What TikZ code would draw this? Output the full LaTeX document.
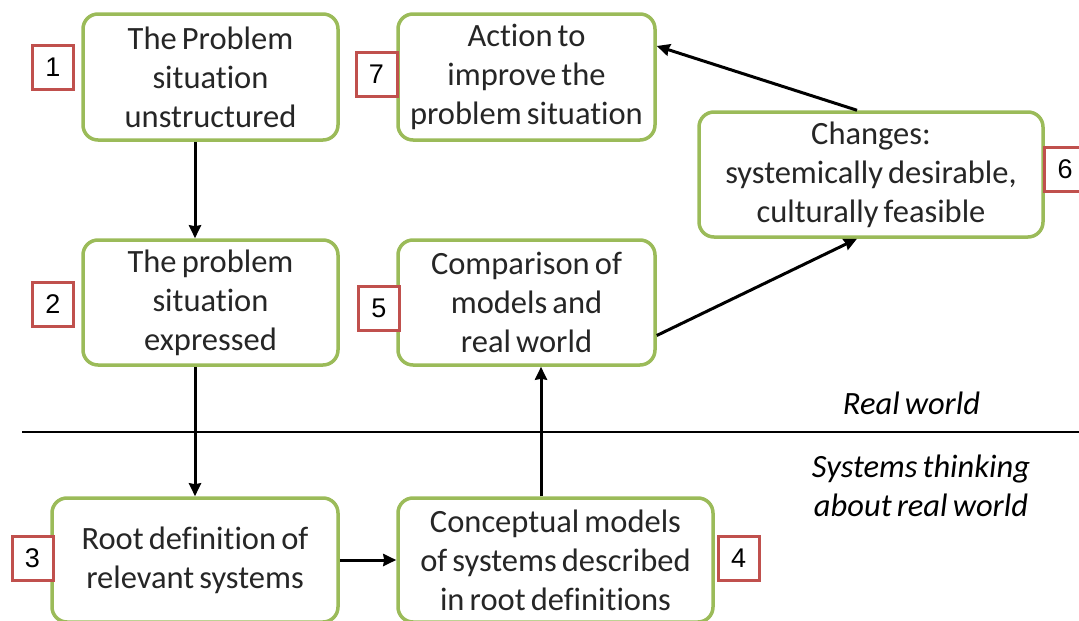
\documentclass[tikz,border=0pt]{standalone}
\usepackage{fontspec}
\setmainfont{Carlito}[WordSpace=0.7, RawFeature={-liga;-clig;-calt;-dlig}]
\newfontfamily\numfont{Liberation Sans}
\usetikzlibrary{arrows.meta}
\definecolor{boxgreen}{HTML}{9BBB59}
\definecolor{tagred}{HTML}{C0504D}
\definecolor{textgrey}{HTML}{262626}
\begin{document}
\begin{tikzpicture}[x=1pt,y=-1pt,
  stage/.style={draw=boxgreen, line width=3.5pt, rounded corners=15pt, fill=white,
    align=center, text=textgrey, inner sep=0pt,
    font=\fontsize{32.5}{39}\selectfont},
  tag/.style={draw=tagred, line width=3pt, fill=white, text=black,
    minimum width=41pt, minimum height=44pt, inner sep=0pt,
    font=\numfont\fontsize{27}{30}\selectfont},
  flow/.style={line width=3pt, -{Stealth[length=13pt,width=12pt,inset=1pt]}},
  note/.style={font=\fontsize{32.5}{39}\selectfont\itshape, align=center}]
\useasboundingbox (0,0) rectangle (1079,621);
\clip (0,0) rectangle (1079,621);

% stage boxes
\node[stage, minimum width=255pt, minimum height=126pt] (b1) at (210.5,77) {The Problem\\situation\\unstructured};
\node[stage, minimum width=255pt, minimum height=125pt] (b2) at (210.5,302.5) {The problem\\situation\\expressed};
\node[stage, minimum width=286pt, minimum height=124pt] (b3) at (195,560) {Root definition of\\relevant systems};
\node[stage, minimum width=315pt, minimum height=124pt] (b4) at (555.5,560) {Conceptual models\\of systems described\\in root definitions};
\node[stage, minimum width=257pt, minimum height=125pt] (b5) at (526.5,302.5) {Comparison of\\models and\\real world};
\node[stage, minimum width=344pt, minimum height=125pt] (b6) at (871,174.5) {Changes:\\systemically desirable,\\culturally feasible};
\node[stage, minimum width=257pt, minimum height=126pt] (b7) at (526.5,77) {Action to\\improve the\\problem situation};

% step numbers
\node[tag] (t1) at (53,67.5) {1};
\node[tag] (t2) at (53,304.5) {2};
\node[tag] (t3) at (32.5,558.5) {3};
\node[tag] (t4) at (738.5,558.5) {4};
\node[tag] (t5) at (379,308) {5};
\node[tag] (t6) at (1065,169.5) {6};
\node[tag] (t7) at (376.5,74) {7};

% boundary between the real world and systems thinking
\coordinate (divL) at (22,432);
\coordinate (divR) at (1079,432);
\draw[line width=2pt] (divL) -- (divR);
\node[note] (rw) at (911.5,403) {Real world};
\node[note] (st) at (921,485.5) {Systems thinking\\about real world};

% flow of the method
\draw[flow] (b1.south -| b3.north) -- (b2.north -| b3.north);
\draw[flow] (b2.south -| b3.north) -- (b3.north);
\draw[flow] (b3.east) -- (b4.west);
\draw[flow] ([xshift=-14.5pt]b4.north) -- ([xshift=-14.5pt]b4.north |- b5.south);
\draw[flow] ([yshift=-33pt]b5.east) -- ([xshift=-14pt]b6.south);
\draw[flow] ([xshift=-14pt]b6.north) -- ([yshift=31pt]b7.east);
\end{tikzpicture}
\end{document}
